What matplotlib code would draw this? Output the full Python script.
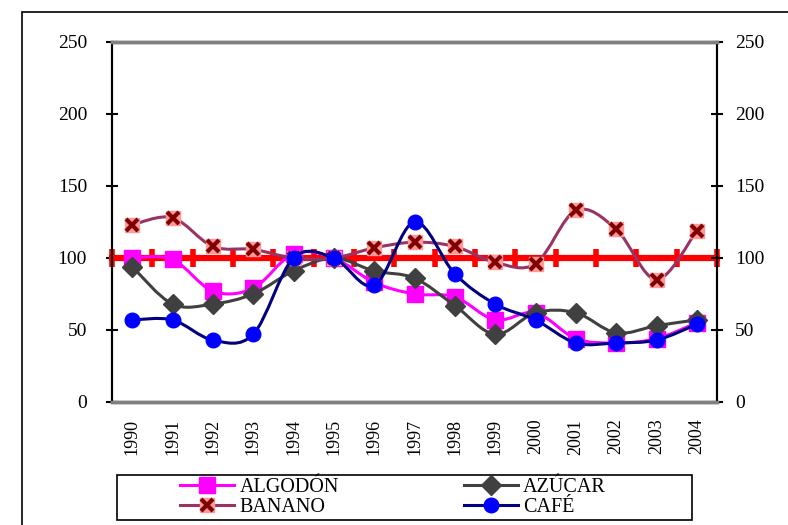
import numpy as np
import matplotlib
matplotlib.use("Agg")
import matplotlib.pyplot as plt
from matplotlib.path import Path
from matplotlib.patches import PathPatch, Rectangle
from matplotlib.lines import Line2D

years = ["1990", "1991", "1992", "1993", "1994", "1995", "1996", "1997",
         "1998", "1999", "2000", "2001", "2002", "2003", "2004"]
algodon = [100, 99, 77, 79, 103, 100, 83, 75, 73, 57, 62, 44, 41, 44, 55]
azucar = [94, 68, 68, 75, 91, 100, 91, 86, 67, 47, 62, 62, 48, 53, 57]
banano = [123, 128, 108, 106, 100, 100, 107, 111, 108, 97, 96, 133, 120, 85, 119]
cafe = [57, 57, 43, 47, 100, 100, 81, 125, 89, 68, 57, 41, 41, 43, 54]
base = 100

plt.rcParams['font.family'] = ['Liberation Serif', 'DejaVu Serif']
plt.rcParams['font.size'] = 14


def smooth(xs, ys):
    # bezier path like the spreadsheet's "smoothed line"
    pts = np.column_stack([xs, ys]).astype(float)
    verts = [pts[0]]
    codes = [Path.MOVETO]
    n = len(pts)
    for i in range(n - 1):
        p0 = pts[i - 1] if i > 0 else pts[i]
        p1 = pts[i]
        p2 = pts[i + 1]
        p3 = pts[i + 2] if i + 2 < n else pts[i + 1]
        verts += [p1 + (p2 - p0) / 6, p2 - (p3 - p1) / 6, p2]
        codes += [Path.CURVE4] * 3
    return Path(verts, codes)


fig = plt.figure(figsize=(7.88, 5.25), dpi=100)
ax = fig.add_axes([112 / 788, 1 - 402 / 525, 605 / 788, 360 / 525])
x = np.arange(len(years))

# reference line at 100 with marks between categories
xb = np.arange(len(years) + 1) - 0.5
ax.plot(xb, [base] * len(xb), color='#FF0000', lw=4.5, marker='|', ms=12.5,
        mew=4, zorder=2, clip_on=False)

series = [
    (algodon, '#FF00FF', dict(marker='s', ms=11, mfc='#FF00FF', mec='#FF00FF')),
    (azucar, '#404040', dict(marker='D', ms=10, mfc='#404040', mec='#404040')),
    (banano, '#993366', None),
    (cafe, '#000080', dict(marker='o', ms=10.5, mfc='#0000FF', mec='#0000FF')),
]
z = 3
for vals, col, mk in series:
    ax.add_patch(PathPatch(smooth(x, vals), fill=False, edgecolor=col, lw=2.2, zorder=z))
    if mk is None:
        ax.plot(x, vals, ls='none', marker='s', ms=10, mfc='#FF9999', mec='#FF9999', zorder=z + 0.5)
        ax.plot(x, vals, ls='none', marker='x', ms=9, mew=3, color='#800000', zorder=z + 0.6)
    else:
        ax.plot(x, vals, ls='none', zorder=z + 0.5, **mk)
    z += 1

ax.set_xlim(-0.5, len(years) - 0.5)
ax.set_ylim(0, 250)
yt = [0, 50, 100, 150, 200, 250]
ax.set_yticks(yt)
ax.set_xticks(x)
ax.set_xticklabels(years, rotation=90, fontsize=13)
ax.tick_params(axis='x', length=0, pad=12)
ax.tick_params(axis='y', direction='inout', length=9, width=1.5, pad=13.5)

ax2 = ax.twinx()
ax2.set_ylim(0, 250)
ax2.set_yticks(yt)
ax2.tick_params(axis='y', direction='inout', length=9, width=1.5, pad=8.5)

for a in (ax, ax2):
    for s in ['top', 'bottom']:
        a.spines[s].set_color('#808080')
        a.spines[s].set_linewidth(2.5)
    for s in ['left', 'right']:
        a.spines[s].set_color('black')
        a.spines[s].set_linewidth(1.5)

# figure border (left and top visible)
fig.patches.append(Rectangle((22 / 788, -0.5), 2, 0.5 + 1 - 12 / 525, fill=False,
                             edgecolor='black', lw=1.2, transform=fig.transFigure))
# legend box
fig.patches.append(Rectangle((117 / 788, 1 - 520 / 525), 575 / 788, 45 / 525, fill=False,
                             edgecolor='black', lw=1.2, transform=fig.transFigure))

h_alg = Line2D([], [], color='#FF00FF', lw=2.2, marker='s', ms=11, mfc='#FF00FF', mec='#FF00FF')
h_azu = Line2D([], [], color='#404040', lw=2.2, marker='D', ms=10, mfc='#404040', mec='#404040')
h_ban = (Line2D([], [], color='#993366', lw=2.2, marker='s', ms=10, mfc='#FF9999', mec='#FF9999'),
         Line2D([], [], ls='none', marker='x', ms=9, mew=3, color='#800000'))
h_caf = Line2D([], [], color='#000080', lw=2.2, marker='o', ms=10.5, mfc='#0000FF', mec='#0000FF')
fig.legend([h_alg, h_ban, h_azu, h_caf], ['ALGODÓN', 'BANANO', 'AZÚCAR', 'CAFÉ'],
           ncol=2, frameon=False, loc='center left',
           bbox_to_anchor=(180 / 788, 1 - 497.5 / 525), handlelength=2.7,
           handletextpad=0.25, columnspacing=6.2, labelspacing=0.0,
           borderpad=0, borderaxespad=0, fontsize=14.5)

fig.savefig('out.png', dpi=100)
